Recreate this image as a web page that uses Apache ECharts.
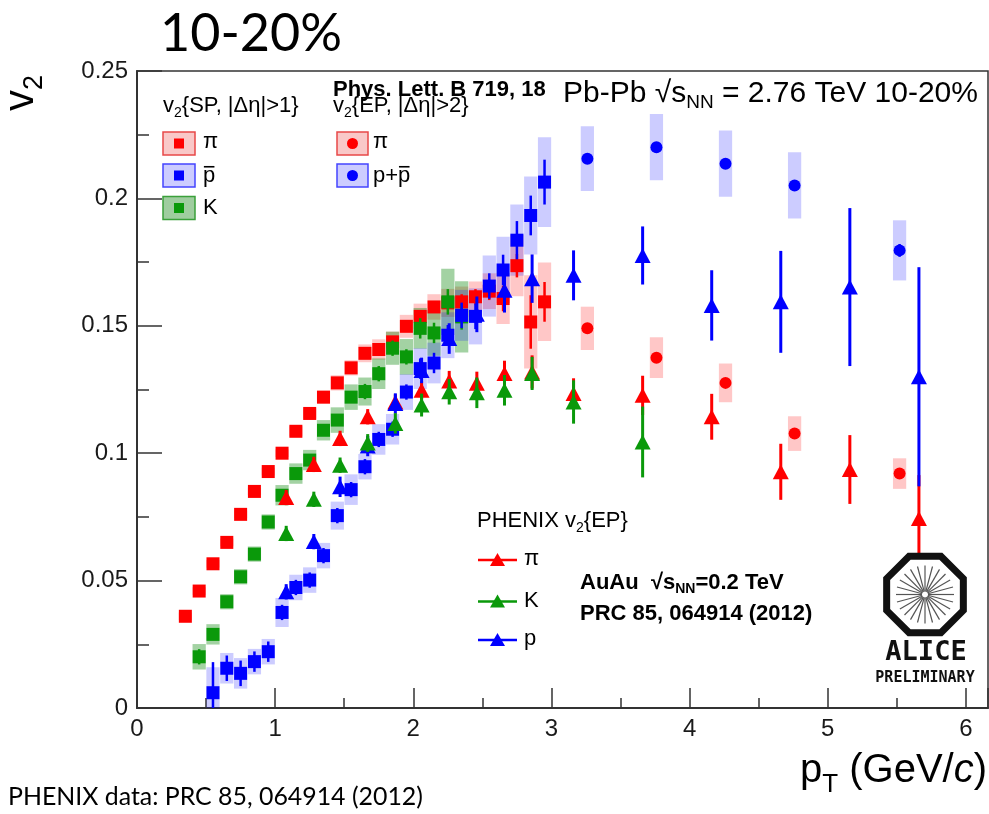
<!DOCTYPE html>
<html><head><meta charset="utf-8">
<script src="https://cdn.jsdelivr.net/npm/echarts@6/dist/echarts.min.js"></script>
<style>html,body{margin:0;padding:0;background:#fff}#c{width:989px;height:814px}</style>
</head><body><div id="c"></div>
<script>
// ---------- DATA ----------
// ALICE v2{SP,|Δη|>1} pions
const spPiX = [0.35,0.45,0.55,0.65,0.75,0.85,0.95,1.05,1.15,1.25,1.35,1.45,1.55,1.65,1.75,1.85,1.95,2.05,2.15,2.25,2.35,2.45,2.55,2.65,2.75,2.85,2.95];
const spPiV = [0.036,0.0459,0.0566,0.065,0.076,0.085,0.0928,0.100,0.1086,0.1156,0.122,0.1276,0.1335,0.1392,0.1407,0.1437,0.1498,0.1537,0.1574,0.159,0.1594,0.1614,0.1636,0.1607,0.1736,0.1515,0.1594];
const spPiStat = [0.001,0.001,0.001,0.001,0.001,0.001,0.001,0.001,0.001,0.001,0.001,0.0012,0.0012,0.0014,0.0015,0.0016,0.0018,0.002,0.0022,0.0025,0.003,0.003,0.0035,0.005,0.0046,0.0105,0.0078];
const spPiSys = [0.0015,0.0015,0.0015,0.0015,0.0015,0.0015,0.0015,0.0015,0.002,0.002,0.0025,0.003,0.003,0.0035,0.004,0.004,0.0045,0.005,0.005,0.0055,0.006,0.006,0.007,0.01,0.012,0.0183,0.0154];
// ALICE v2{SP} kaons
const spKX = [0.45,0.55,0.65,0.75,0.85,0.95,1.05,1.15,1.25,1.35,1.45,1.55,1.65,1.75,1.85,1.95,2.05,2.15,2.25,2.35];
const spKV = [0.0201,0.0289,0.0417,0.0515,0.0604,0.073,0.0835,0.092,0.0973,0.109,0.113,0.122,0.1242,0.1312,0.1412,0.1378,0.149,0.1472,0.1594,0.1535];
const spKStat = [0.003,0.002,0.002,0.002,0.002,0.002,0.002,0.002,0.002,0.002,0.002,0.002,0.003,0.003,0.003,0.003,0.004,0.004,0.005,0.005];
const spKSys = [0.005,0.004,0.003,0.003,0.003,0.003,0.004,0.004,0.004,0.004,0.005,0.005,0.0055,0.006,0.0065,0.007,0.008,0.009,0.013,0.014];
// ALICE v2{SP} antiprotons
const spPX = [0.55,0.65,0.75,0.85,0.95,1.05,1.15,1.25,1.35,1.45,1.55,1.65,1.75,1.85,1.95,2.05,2.15,2.25,2.35,2.45,2.55,2.65,2.75,2.85,2.95];
const spPV = [0.006,0.0156,0.0136,0.0182,0.0221,0.0375,0.0473,0.0502,0.0598,0.0755,0.0857,0.0947,0.1054,0.1094,0.124,0.1332,0.1354,0.1463,0.1541,0.1537,0.1656,0.1719,0.1836,0.1933,0.2064];
const spPStat = [0.012,0.005,0.005,0.004,0.004,0.003,0.003,0.003,0.003,0.003,0.003,0.003,0.003,0.003,0.003,0.004,0.004,0.004,0.005,0.005,0.005,0.006,0.0075,0.0078,0.0088];
const spPSys = [0.01,0.006,0.006,0.005,0.005,0.0057,0.005,0.005,0.005,0.0055,0.006,0.005,0.006,0.006,0.007,0.008,0.008,0.009,0.01,0.011,0.012,0.013,0.014,0.0153,0.0176];
// ALICE v2{EP,|Δη|>2}
const epX = [3.26,3.76,4.26,4.76,5.52];
const epPiV = [0.149,0.1375,0.1276,0.1077,0.092];
const epPiStat = [0.001,0.001,0.001,0.0015,0.0015];
const epPiSys = [0.0085,0.008,0.0076,0.0068,0.006];
const epPV = [0.2156,0.2201,0.2136,0.2051,0.1796];
const epPStat = [0.001,0.001,0.001,0.002,0.0025];
const epPSys = [0.0127,0.013,0.013,0.013,0.0118];
// PHENIX v2{EP} AuAu 0.2 TeV
const phX = [1.08,1.28,1.47,1.67,1.87,2.06,2.26,2.46,2.66,2.86,3.16,3.66,4.16,4.66,5.16,5.66];
const phPiV = [0.0826,0.0956,0.1058,0.1143,0.1201,0.1247,0.1283,0.1275,0.1313,0.1319,0.1234,0.1227,0.1143,0.0927,0.0936,0.0744];
const phPiErr = [0.003,0.003,0.003,0.003,0.003,0.0035,0.004,0.0045,0.005,0.0065,0.006,0.0077,0.009,0.011,0.0135,0.017];
const phKX = [1.08,1.28,1.47,1.67,1.87,2.06,2.26,2.46,2.66,2.86,3.16,3.66];
const phKV = [0.0685,0.0819,0.0953,0.104,0.1117,0.1189,0.1241,0.1237,0.1247,0.1313,0.1201,0.1044];
const phKErr = [0.003,0.003,0.003,0.0035,0.004,0.0045,0.005,0.006,0.006,0.0065,0.0085,0.0139];
const phPV = [0.0456,0.0653,0.0868,0.1028,0.1195,0.1325,0.145,0.1545,0.164,0.1685,0.1698,0.1776,0.158,0.1594,0.1652,0.13];
const phPErr = [0.003,0.003,0.004,0.004,0.004,0.005,0.006,0.007,0.0088,0.0095,0.0098,0.0114,0.0138,0.02,0.031,0.043];
// axis ticks
const xTicks = [0,1,2,3,4,5,6];
const yTicks = [0,0.05,0.1,0.15,0.2,0.25];

// ---------- STYLE ----------
const RED='#ff0000', BLUE='#0000ff', GREEN='#0a990a';
const RED_BOX='rgba(255,0,0,0.22)', BLUE_BOX='rgba(0,0,255,0.2)', GREEN_BOX='rgba(0,130,0,0.36)';
const ROOT='Liberation Sans';
const HW=0.048;

function boxSeries(xs, vs, ss, fill){
  return {type:'custom', z:1, silent:true, clip:true,
    data: xs.map((x,i)=>[x, vs[i], ss[i]]), encode:{x:0,y:1},
    renderItem:(p,api)=>{
      const x=api.value(0), y=api.value(1), s=api.value(2);
      const a=api.coord([x-HW, y+s]), b=api.coord([x+HW, Math.max(0,y-s)]);
      return {type:'rect', shape:{x:a[0],y:a[1],width:b[0]-a[0],height:b[1]-a[1]}, style:{fill:fill}};
    }};
}
function errSeries(xs, vs, es, color, w, z){
  return {type:'custom', z:z, silent:true, clip:true,
    data: xs.map((x,i)=>[x, vs[i], es[i]]), encode:{x:0,y:1},
    renderItem:(p,api)=>{
      const x=api.value(0), y=api.value(1), e=api.value(2);
      const a=api.coord([x, Math.max(0,y-e)]), b=api.coord([x, y+e]);
      return {type:'line', shape:{x1:a[0],y1:a[1],x2:b[0],y2:b[1]}, style:{stroke:color, lineWidth:w}};
    }};
}
function markSeries(xs, vs, color, symbol, size, z){
  return {type:'scatter', z:z, silent:true, symbol:symbol, symbolSize:size,
    itemStyle:{color:color, opacity:1}, data: xs.map((x,i)=>[x, vs[i]])};
}

// ---------- text helper ----------
const mctx=document.createElement('canvas').getContext('2d');
function measure(t,font){mctx.font=font;return mctx.measureText(t).width;}
function run(x, y, parts, family, color, sx){
  sx=sx||1; const els=[]; let cx=x;
  for(const p of parts){
    const font=(p.it?'italic ':'')+(p.b?'bold ':'')+p.s+'px "'+(p.f||family)+'"';
    const yy=y+(p.dy||0);
    els.push({type:'text', x:cx, y:yy, scaleX:sx, silent:true, z:100,
      style:{text:p.t, font:font, fill:p.c||color, textAlign:'left', textVerticalAlign:'middle', align:'left', verticalAlign:'middle'}});
    const w=measure(p.t,font)*sx;
    if(p.over){
      const yo=yy-p.s*0.42;
      els.push({type:'line', silent:true, z:100, shape:{x1:cx+p.over[0]*sx*p.s,y1:yo,x2:cx+p.over[1]*sx*p.s,y2:yo}, style:{stroke:p.c||color,lineWidth:1.6}});
    }
    cx+=w;
  }
  return els;
}
function fitSize(t, family, target){ return target/measure(t,'100px "'+family+'"')*100; }

const G=[];
// slide title / footer
const t1='10-20%'; G.push(...run(160,34,[{t:t1,s:fitSize(t1,'Lato',182)}],'Lato','#000'));
const t2='PHENIX data: PRC 85, 064914 (2012)'; G.push(...run(8,797,[{t:t2,s:fitSize(t2,'Lato',415)}],'Lato','#000'));
// top texts
G.push(...run(333,90,[{t:'Phys. Lett. B 719, 18',s:22,b:true}],ROOT,'#000'));
G.push(...run(563,94,[{t:'Pb-Pb \u221As',s:30},{t:'NN',s:19,dy:9},{t:' = 2.76 TeV 10-20%',s:30}],ROOT,'#000'));
// legend headers
G.push(...run(163,106,[{t:'v',s:22},{t:'2',s:14,dy:7},{t:'{SP, |\u0394\u03B7|>1}',s:22}],ROOT,'#000'));
G.push(...run(333,106,[{t:'v',s:22},{t:'2',s:14,dy:7},{t:'{EP, |\u0394\u03B7|>2}',s:22}],ROOT,'#000'));
// legend boxes
function legBox(x,w,cy,fill,stroke,color,sym){
  G.push({type:'rect',silent:true,z:99,shape:{x:x,y:cy-11.5,width:w,height:23},style:{fill:fill,stroke:stroke,lineWidth:1.5}});
  if(sym==='rect') G.push({type:'rect',silent:true,z:100,shape:{x:x+w/2-5,y:cy-5,width:10,height:10},style:{fill:color}});
  else G.push({type:'circle',silent:true,z:100,shape:{cx:x+w/2,cy:cy,r:5.5},style:{fill:color}});
}
legBox(163,32,143.5,'#f9c8c8','#e84848',RED,'rect');
legBox(163,32,175.5,'#ccccff','#4444ff',BLUE,'rect');
legBox(163,32,208,'#9fcd9f','#3aa03a',GREEN,'rect');
legBox(337,31,143.5,'#f9c8c8','#e84848',RED,'circle');
legBox(337,31,175.5,'#ccccff','#4444ff',BLUE,'circle');
G.push(...run(203,142,[{t:'\u03C0',s:22}],ROOT,'#000'));
G.push(...run(203,176,[{t:'p',s:22,over:[0.04,0.52]}],ROOT,'#000'));
G.push(...run(203,208,[{t:'K',s:22}],ROOT,'#000'));
G.push(...run(373,142,[{t:'\u03C0',s:22}],ROOT,'#000'));
G.push(...run(373,176,[{t:'p+',s:22},{t:'p',s:22,over:[0.04,0.52]}],ROOT,'#000'));
// PHENIX legend
G.push(...run(477,521,[{t:'PHENIX v',s:22},{t:'2',s:14,dy:7},{t:'{EP}',s:22}],ROOT,'#000'));
function phLeg(cy,color,label){
  G.push({type:'line',silent:true,z:99,shape:{x1:478,y1:cy,x2:517,y2:cy},style:{stroke:color,lineWidth:2.5}});
  G.push({type:'polygon',silent:true,z:100,shape:{points:[[497.5,cy-7],[505,cy+6],[490,cy+6]]},style:{fill:color}});
  G.push(...run(524,cy-1,[{t:label,s:22}],ROOT,'#000'));
}
phLeg(560,RED,'\u03C0'); phLeg(601.5,GREEN,'K'); phLeg(640,BLUE,'p');
G.push(...run(580,583,[{t:'AuAu  \u221As',s:22,b:true},{t:'NN',s:14,b:true,dy:6},{t:'=0.2 TeV',s:22,b:true}],ROOT,'#000'));
G.push(...run(580,614,[{t:'PRC 85, 064914 (2012)',s:22,b:true}],ROOT,'#000'));
// axis titles
G.push({type:'group', x:21, y:111, rotation:Math.PI/2, silent:true, children: run(0,0,[{t:'v',s:42},{t:'2',s:27,dy:14}],ROOT,'#000')});
G.push(...run(800,771,[{t:'p',s:40},{t:'T',s:26,dy:14},{t:' (GeV/',s:40},{t:'c',s:40,it:true},{t:')',s:40}],ROOT,'#000'));
// ALICE logo (decoration)
(function(){
  const cx=925, cy=594.5, R=41.5, pts=[];
  for(let k=0;k<8;k++){const a=Math.PI/8+k*Math.PI/4; pts.push([cx+R*Math.cos(a), cy+R*Math.sin(a)]);}
  G.push({type:'polygon',silent:true,z:100,shape:{points:pts},style:{fill:'#fff',stroke:'#111',lineWidth:7}});
  for(let k=0;k<24;k++){const a=k*Math.PI/12; G.push({type:'line',silent:true,z:101,shape:{x1:cx+3*Math.cos(a),y1:cy+3*Math.sin(a),x2:cx+29*Math.cos(a),y2:cy+29*Math.sin(a)},style:{stroke:'#555',lineWidth:1.2}});}
  G.push({type:'text',x:926,y:653,silent:true,z:101,style:{text:'ALICE',font:'bold 27px "DejaVu Sans Mono"',fill:'#111',textAlign:'center',textVerticalAlign:'middle',align:'center',verticalAlign:'middle'}});
  G.push({type:'text',x:925,y:678,silent:true,z:101,style:{text:'PRELIMINARY',font:'bold 15px "DejaVu Sans Mono"',fill:'#111',textAlign:'center',textVerticalAlign:'middle',align:'center',verticalAlign:'middle'}});
})();

const chart=echarts.init(document.getElementById('c'),null,{renderer:'canvas'});
chart.setOption({
  animation:false,
  backgroundColor:'#fff',
  grid:{left:137,top:71,right:1,bottom:106,show:true,borderColor:'#333',borderWidth:1.5,backgroundColor:'transparent'},
  xAxis:{type:'value',min:xTicks[0],max:6.16,interval:1,
    axisLine:{onZero:false,lineStyle:{color:'#333',width:2}},
    axisTick:{inside:true,length:20,lineStyle:{color:'#333',width:1.5}},
    minorTick:{show:true,splitNumber:2,length:10,lineStyle:{color:'#333',width:1.5}},
    splitLine:{show:false},
    axisLabel:{fontFamily:ROOT,fontSize:24,color:'#1a1a1a',margin:9,showMaxLabel:false,
      formatter:v=>xTicks.indexOf(Math.round(v*100)/100)>=0?String(Math.round(v)):''}},
  yAxis:{type:'value',min:yTicks[0],max:yTicks[yTicks.length-1],interval:0.05,
    axisLine:{onZero:false,lineStyle:{color:'#333',width:2}},
    axisTick:{inside:true,length:25,lineStyle:{color:'#333',width:1.5}},
    minorTick:{show:true,splitNumber:2,length:12,lineStyle:{color:'#333',width:1.5}},
    splitLine:{show:false},
    axisLabel:{fontFamily:ROOT,fontSize:24,color:'#1a1a1a',margin:9,
      formatter:v=>v===0?'0':String(+v.toFixed(2))}},
  graphic:{elements:G},
  series:[
    boxSeries(spPiX,spPiV,spPiSys,RED_BOX),
    boxSeries(spKX,spKV,spKSys,GREEN_BOX),
    boxSeries(spPX,spPV,spPSys,BLUE_BOX),
    boxSeries(epX,epPiV,epPiSys,RED_BOX),
    boxSeries(epX,epPV,epPSys,BLUE_BOX),
    errSeries(spPiX,spPiV,spPiStat,RED,2.5,2),
    markSeries(spPiX,spPiV,RED,'rect',13,3),
    errSeries(spKX,spKV,spKStat,GREEN,2.5,4),
    markSeries(spKX,spKV,GREEN,'rect',13,5),
    errSeries(spPX,spPV,spPStat,BLUE,2.5,6),
    markSeries(spPX,spPV,BLUE,'rect',13,7),
    errSeries(epX,epPiV,epPiStat,RED,2.5,6),
    markSeries(epX,epPiV,RED,'circle',12,7),
    errSeries(epX,epPV,epPStat,BLUE,2.5,6),
    markSeries(epX,epPV,BLUE,'circle',12,7),
    errSeries(phX,phPiV,phPiErr,RED,3,8),
    markSeries(phX,phPiV,RED,'triangle',[16,15],9),
    errSeries(phX,phPV,phPErr,BLUE,3,10),
    markSeries(phX,phPV,BLUE,'triangle',[16,15],11),
    errSeries(phKX,phKV,phKErr,GREEN,3,12),
    markSeries(phKX,phKV,GREEN,'triangle',[16,15],13)
  ]
});
</script></body></html>
